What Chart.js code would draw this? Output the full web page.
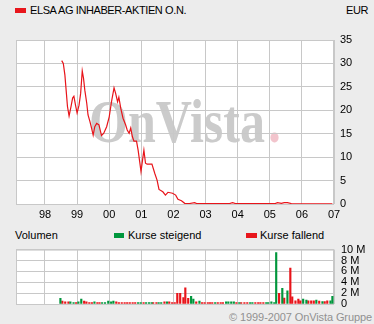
<!DOCTYPE html>
<html>
<head>
<meta charset="utf-8">
<script src="https://cdn.jsdelivr.net/npm/chart.js@4/dist/chart.umd.min.js"></script>
<style>
  body { margin: 0; background: #ececec; font-family: "Liberation Sans", Arial, sans-serif; font-size: 11px; color: #000; }
  #wrap { position: relative; width: 374px; height: 324px; overflow: hidden; }
  canvas { position: absolute; left: 0; z-index: 2; }
  .txt { position: absolute; white-space: nowrap; line-height: 12px; }
  .box { position: absolute; width: 11px; height: 5px; }
  .plot { position: absolute; background: #fff; z-index: 0; }
  .vline { position: absolute; width: 1px; background: #c8c8c8; z-index: 1; }
</style>
</head>
<body>
<div id="wrap">
  <canvas id="priceChart" width="374" height="225" style="top:0"></canvas>
  <canvas id="volChart" width="374" height="88" style="top:236px"></canvas>

  <div class="box" style="left:15px;top:8px;background:#e8161c"></div>
  <div class="txt" style="left:30px;top:4px;letter-spacing:-0.4px">ELSA AG INHABER-AKTIEN O.N.</div>
  <div class="txt" style="right:6px;top:4px;letter-spacing:-0.4px">EUR</div>

  <div class="txt" style="left:15px;top:229px">Volumen</div>
  <div class="box" style="left:114px;top:233px;width:10px;background:#00963c"></div>
  <div class="txt" style="left:128px;top:229px">Kurse steigend</div>
  <div class="box" style="left:246px;top:233px;background:#e8161c"></div>
  <div class="txt" style="left:260px;top:229px">Kurse fallend</div>

  <div class="txt" style="right:2px;top:311px;color:#919191;letter-spacing:-0.1px">© 1999-2007 OnVista Gruppe</div>
</div>
<script>
// price (EUR), x = decimal year
var priceDates = [1998.52, 1998.57, 1998.62, 1998.65, 1998.70, 1998.75, 1998.81, 1998.86, 1998.90, 1998.95,
  1999.00, 1999.06, 1999.11, 1999.16, 1999.20, 1999.24, 1999.30, 1999.34, 1999.40, 1999.45,
  1999.50, 1999.55, 1999.61, 1999.68, 1999.76, 1999.83, 1999.92, 2000.00, 2000.07, 2000.15,
  2000.20, 2000.26, 2000.30, 2000.36, 2000.43, 2000.51, 2000.56, 2000.62, 2000.67, 2000.72,
  2000.77, 2000.85, 2000.90, 2000.95, 2000.99, 2001.03, 2001.08, 2001.13, 2001.18, 2001.33,
  2001.42, 2001.49, 2001.55, 2001.67, 2001.75, 2001.83, 2001.97, 2002.07, 2002.14, 2002.25,
  2002.35, 2002.50, 2002.66, 2002.72, 2003.75, 2003.84, 2003.93, 2005.17, 2005.24, 2005.36,
  2005.45, 2005.55, 2005.67, 2006.95];
var priceValues = [30.6, 30.0, 27.5, 25.0, 20.8, 18.8, 20.8, 22.6, 23.0, 21.1,
  19.4, 21.1, 23.6, 28.4, 26.8, 24.3, 21.5, 19.0, 17.6, 16.2,
  14.7, 16.5, 17.2, 16.9, 14.6, 15.1, 16.5, 18.6, 21.8, 24.8,
  23.6, 21.8, 22.8, 20.4, 18.3, 16.9, 15.8, 15.1, 16.2, 14.4,
  13.4, 13.4, 11.5, 9.0, 6.9, 9.0, 11.5, 8.7, 8.5, 8.5,
  6.5, 5.1, 3.1, 2.6, 1.9, 2.5, 2.3, 1.9, 1.0, 0.7,
  0.15, 0.1, 0.3, 0.1, 0.1, 0.3, 0.1, 0.1, 0.3, 0.15,
  0.3, 0.3, 0.1, 0.05];

// volume bars: date, shares (millions), u = Kurse steigend, d = Kurse fallend
var volDates = [1998.48, 1998.54, 1998.63, 1998.73, 1998.79, 1998.89, 1998.97, 1999.04, 1999.13, 1999.22,
  1999.29, 1999.38, 1999.46, 1999.54, 1999.63, 1999.70, 1999.78, 1999.87, 1999.97, 2000.06,
  2000.13, 2000.22, 2000.30, 2000.39, 2000.48, 2000.56, 2000.64, 2000.73, 2000.81, 2000.90,
  2000.98, 2001.07, 2001.15, 2001.24, 2001.32, 2001.37, 2001.47, 2001.54, 2001.62, 2001.72,
  2001.80, 2001.87, 2001.96, 2002.04, 2002.12, 2002.21, 2002.31, 2002.37, 2002.46, 2002.55,
  2002.62, 2002.71, 2002.81, 2002.89, 2002.97, 2003.07, 2003.14, 2003.21, 2003.30, 2003.38,
  2003.47, 2003.54, 2003.64, 2003.71, 2003.80, 2003.88, 2003.96, 2004.05, 2004.11, 2004.21,
  2004.30, 2004.39, 2004.46, 2004.55, 2004.64, 2004.71, 2004.80, 2004.89, 2004.95, 2005.05,
  2005.14, 2005.20, 2005.29, 2005.39, 2005.45, 2005.55, 2005.64, 2005.70, 2005.80, 2005.89,
  2005.95, 2006.04, 2006.14, 2006.20, 2006.29, 2006.37, 2006.45, 2006.54, 2006.64, 2006.71,
  2006.79, 2006.89, 2006.95];
var volValues = [1.05, 0.55, 0.4, 0.4, 0.4, 0.25, 0.25, 0.4, 0.9, 0.55,
  0.4, 0.25, 0.25, 0.4, 0.25, 0.25, 0.25, 0.25, 0.55, 0.4,
  0.55, 0.4, 0.25, 0.25, 0.25, 0.25, 0.25, 0.25, 0.25, 0.25,
  0.25, 0.25, 0.25, 0.25, 0.25, 0.25, 0.25, 0.25, 0.25, 0.4,
  0.4, 0.4, 0.25, 0.25, 1.95, 1.95, 1.2, 2.95, 1.05, 1.4,
  0.9, 0.4, 0.55, 0.25, 0.25, 0.25, 0.25, 0.25, 0.25, 0.25,
  0.25, 0.25, 0.4, 0.4, 0.4, 0.4, 0.25, 0.25, 0.25, 0.25,
  0.25, 0.25, 0.25, 0.25, 0.25, 0.25, 0.25, 0.25, 0.25, 0.4,
  0.25, 9.45, 1.95, 2.9, 1.1, 2.4, 6.6, 1.3, 0.6, 0.9,
  0.6, 0.9, 0.7, 0.6, 0.6, 0.6, 0.7, 0.55, 0.45, 0.45,
  0.6, 0.6, 1.4];
var volDir = ['u','d','d','d','u','u','d','u','u','d',
  'd','d','d','u','d','d','u','u','u','u',
  'u','d','d','d','d','d','d','d','d','u',
  'u','d','u','u','u','d','d','u','u','d',
  'u','d','d','d','d','d','d','d','d','u',
  'u','d','u','d','d','d','d','d','u','d',
  'd','d','u','u','u','u','d','u','d','d',
  'd','u','u','d','d','d','d','u','u','u',
  'u','u','d','u','d','u','d','d','d','d',
  'd','u','u','d','d','d','u','d','u','d',
  'd','u','u'];

var yearTicks = [1998, 1999, 2000, 2001, 2002, 2003, 2004, 2005, 2006, 2007];
var yearLabels = ['98', '99', '00', '01', '02', '03', '04', '05', '06', '07'];
var priceTicks = [0, 5, 10, 15, 20, 25, 30, 35];
var volTicks = [0, 2, 4, 6, 8, 10];
var volLabels = ['0', '2 M', '4 M', '6 M', '8 M', '10 M'];

var xMin = 1997.097, xMax = 2007;
var red = '#e8141a', green = '#00963c', gridCol = '#c8c8c8';

// OnVista watermark + plot border, drawn on the canvas
function makePlotDecor(withMark) {
  return {
    id: 'plotDecor',
    beforeDraw: function(chart) {
      if (!withMark) return;
      var ctx = chart.ctx;
      ctx.save();
      ctx.font = 'bold 62px "Liberation Serif", serif';
      ctx.fillStyle = '#cbcbcb';
      var w = ctx.measureText('OnVista').width;
      ctx.translate(89, 142);
      ctx.scale(176 / w, 1);
      ctx.fillText('OnVista', 0, 0);
      ctx.fillStyle = '#f2c4cc';
      ctx.fillText('.', w + 4, 0);
      ctx.restore();
    },
    beforeDatasetsDraw: function(chart) {
      var a = chart.chartArea, ctx = chart.ctx;
      ctx.save();
      ctx.strokeStyle = gridCol;
      ctx.lineWidth = 1;
      ctx.strokeRect(a.left + 0.5, a.top + 0.5, a.right - a.left - 1, a.bottom - a.top);
      ctx.restore();
    }
  };
}

// white plot area and year lines behind the (transparent) canvas, placed from the chart's own x scale
function addPlotBackdrop(chart, canvasTop) {
  var a = chart.chartArea, xs = chart.scales.x, wrap = document.getElementById('wrap');
  var bg = document.createElement('div');
  bg.className = 'plot';
  bg.style.left = a.left + 'px';
  bg.style.top = (canvasTop + a.top) + 'px';
  bg.style.width = (a.right - a.left) + 'px';
  bg.style.height = (a.bottom - a.top) + 'px';
  wrap.appendChild(bg);
  yearTicks.forEach(function(v) {
    var ln = document.createElement('div');
    ln.className = 'vline';
    ln.style.left = Math.round(xs.getPixelForValue(v) - 0.5) + 'px';
    ln.style.top = (canvasTop + a.top) + 'px';
    ln.style.height = (a.bottom - a.top) + 'px';
    wrap.appendChild(ln);
  });
}

var pricePoints = priceDates.map(function(d, i) { return { x: d, y: priceValues[i] }; });

var priceChart = new Chart(document.getElementById('priceChart'), {
  type: 'line',
  data: {
    datasets: [{
      label: 'ELSA AG INHABER-AKTIEN O.N.',
      data: pricePoints,
      borderColor: red,
      borderWidth: 1.2,
      pointRadius: 0,
      tension: 0,
      fill: false
    }]
  },
  options: {
    responsive: false,
    animation: false,
    layout: { padding: { left: 16, top: 40, right: 0, bottom: 0 } },
    plugins: { legend: { display: false }, tooltip: { enabled: false } },
    scales: {
      x: {
        type: 'linear', min: xMin, max: xMax,
        afterBuildTicks: function(s) { s.ticks = yearTicks.map(function(v) { return { value: v }; }); },
        afterFit: function(s) { s.height = 21; },
        grid: { color: gridCol, drawTicks: false },
        border: { display: false },
        ticks: {
          padding: 4, color: '#000', maxRotation: 0, autoSkip: false,
          font: { family: '"Liberation Sans", Arial, sans-serif', size: 11 },
          callback: function(v, i) { return yearLabels[i]; }
        }
      },
      y: {
        position: 'right', min: 0, max: 35,
        afterBuildTicks: function(s) { s.ticks = priceTicks.map(function(v) { return { value: v }; }); },
        afterFit: function(s) { s.width = 40; },
        grid: { color: gridCol, drawTicks: false },
        border: { display: false },
        ticks: {
          padding: 6, color: '#000', autoSkip: false,
          font: { family: '"Liberation Sans", Arial, sans-serif', size: 11 }
        }
      }
    }
  },
  plugins: [makePlotDecor(true)]
});
addPlotBackdrop(priceChart, 0);

var risePts = [], fallPts = [];
volDates.forEach(function(d, i) {
  var p = { x: d, y: volValues[i] };
  if (volDir[i] === 'u') risePts.push(p); else fallPts.push(p);
});

var volChart = new Chart(document.getElementById('volChart'), {
  type: 'bar',
  data: {
    datasets: [
      { label: 'Kurse steigend', data: risePts, backgroundColor: green, barThickness: 1.5, grouped: false },
      { label: 'Kurse fallend', data: fallPts, backgroundColor: red, barThickness: 1.5, grouped: false }
    ]
  },
  options: {
    responsive: false,
    animation: false,
    layout: { padding: { left: 16, top: 9, right: 0, bottom: 0 } },
    plugins: { legend: { display: false }, tooltip: { enabled: false } },
    scales: {
      x: {
        type: 'linear', min: xMin, max: xMax, offset: false,
        afterBuildTicks: function(s) { s.ticks = yearTicks.map(function(v) { return { value: v }; }); },
        afterFit: function(s) { s.height = 20; },
        grid: { color: gridCol, drawTicks: false, offset: false },
        border: { display: false },
        ticks: { display: false }
      },
      y: {
        position: 'right', min: 0, max: 10,
        afterBuildTicks: function(s) { s.ticks = volTicks.map(function(v) { return { value: v }; }); },
        afterFit: function(s) { s.width = 40; },
        grid: { color: gridCol, drawTicks: false },
        border: { display: false },
        ticks: {
          padding: 7, color: '#000', autoSkip: false,
          font: { family: '"Liberation Sans", Arial, sans-serif', size: 11 },
          callback: function(v, i) { return volLabels[i]; }
        }
      }
    }
  },
  plugins: [makePlotDecor(false)]
});
addPlotBackdrop(volChart, 236);
</script>
</body>
</html>
